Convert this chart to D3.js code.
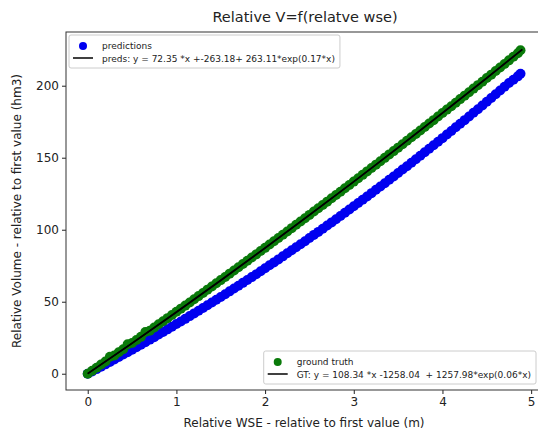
<!DOCTYPE html>
<html>
<head>
<meta charset="utf-8">
<script src="https://cdn.jsdelivr.net/npm/d3@7"></script>
<style>
  body { margin: 0; background: #fff; }
  text { font-family: "DejaVu Sans", sans-serif; fill: #222; }
</style>
</head>
<body>
<div id="chart"></div>
<script>
// values
var wse = [0,0.05,0.1,0.15,0.2,0.25,0.3,0.35,0.4,0.45,0.5,0.55,0.6,0.65,0.7,0.75,0.8,0.85,0.9,0.95,
  1.0,1.05,1.1,1.15,1.2,1.25,1.3,1.35,1.4,1.45,1.5,1.55,1.6,1.65,1.7,1.75,1.8,1.85,1.9,1.95,
  2.0,2.05,2.1,2.15,2.2,2.25,2.3,2.35,2.4,2.45,2.5,2.55,2.6,2.65,2.7,2.75,2.8,2.85,2.9,2.95,
  3.0,3.05,3.1,3.15,3.2,3.25,3.3,3.35,3.4,3.45,3.5,3.55,3.6,3.65,3.7,3.75,3.8,3.85,3.9,3.95,
  4.0,4.05,4.1,4.15,4.2,4.25,4.3,4.35,4.4,4.45,4.5,4.55,4.6,4.65,4.7,4.75,4.8,4.85,4.88];
var predVol = [0,1.6,3.2,4.9,6.5,8.2,9.9,11.6,13.3,15.0,16.7,18.4,20.2,21.9,23.7,25.4,27.2,29.0,30.8,32.6,
  34.5,36.3,38.1,40.0,41.9,43.7,45.6,47.5,49.4,51.4,53.3,55.2,57.2,59.2,61.1,63.1,65.1,67.1,69.1,71.2,
  73.2,75.3,77.3,79.4,81.5,83.6,85.7,87.8,89.9,92.0,94.2,96.4,98.5,100.7,102.9,105.1,107.3,109.5,111.8,114.0,
  116.3,118.5,120.8,123.1,125.4,127.7,130.0,132.3,134.7,137.0,139.4,141.8,144.1,146.5,148.9,151.4,153.8,156.2,158.7,161.1,
  163.6,166.1,168.6,171.1,173.6,176.1,178.6,181.2,183.7,186.3,188.9,191.5,194.1,196.7,199.3,201.9,204.2,206.5,208.3];
var gtVol = [0,2.1,4.2,6.4,8.5,11.8,12.7,14.9,17.0,20.4,21.3,23.4,25.6,29.0,29.9,32.1,34.3,36.4,38.6,40.8,
  43.0,45.2,47.3,49.5,51.7,53.9,56.1,58.4,60.6,62.8,65.0,67.2,69.5,71.7,73.9,76.2,78.4,80.7,82.9,85.2,
  87.4,89.7,92.0,94.2,96.5,98.8,101.1,103.4,105.7,108.0,110.3,112.6,114.9,117.2,119.5,121.8,124.1,126.4,128.8,131.1,
  133.4,135.8,138.1,140.5,142.8,145.2,147.5,149.9,152.3,154.6,157.0,159.4,161.8,164.2,166.5,168.9,171.3,173.7,176.1,178.6,
  181.0,183.4,185.8,188.2,190.7,193.1,195.5,198.0,200.4,202.8,205.3,207.7,210.2,212.7,215.1,217.6,220.1,222.6,224.6];
var fitX = [0,0.5,1,1.5,2,2.5,3,3.5,4,4.5,4.9];
var predsFit = [0,21.0,42.6,64.7,87.2,110.1,133.3,157.0,181.1,205.5,225.3];
var gtFit = [0,21.3,43.0,65.0,87.4,110.3,133.4,157.0,181.0,205.3,225.0];
var xTicks = [0,1,2,3,4,5];
var yTicks = [0,50,100,150,200];

var W = 538, H = 431;
var svg = d3.select("#chart").append("svg")
  .attr("width", W).attr("height", H);

var x = d3.scaleLinear().domain([-0.245, 5.145]).range([66, 544]);
var y = d3.scaleLinear().domain([-11.3, 237.3]).range([390, 32]);

// title
svg.append("text")
  .attr("x", 305).attr("y", 22)
  .attr("text-anchor", "middle")
  .style("font-size", "14.5px")
  .text("Relative V=f(relatve wse)");

// axes
svg.append("g")
  .attr("transform", "translate(0,390)")
  .call(d3.axisBottom(x).tickValues(xTicks).tickFormat(d3.format("d")).tickSize(4).tickPadding(3))
  .call(function(g) { g.select(".domain").remove(); })
  .call(function(g) {
    g.selectAll("line").attr("stroke", "#222");
    g.selectAll("text").style("font-size", "12px").style("font-family", "DejaVu Sans").attr("fill", "#222");
  });

svg.append("g")
  .attr("transform", "translate(66,0)")
  .call(d3.axisLeft(y).tickValues(yTicks).tickSize(4).tickPadding(3))
  .call(function(g) { g.select(".domain").remove(); })
  .call(function(g) {
    g.selectAll("line").attr("stroke", "#222");
    g.selectAll("text").style("font-size", "12px").style("font-family", "DejaVu Sans").attr("fill", "#222");
  });

svg.append("text")
  .attr("x", 304).attr("y", 427)
  .attr("text-anchor", "middle")
  .style("font-size", "12px")
  .text("Relative WSE - relative to first value (m)");

svg.append("text")
  .attr("transform", "translate(21,211) rotate(-90)")
  .attr("text-anchor", "middle")
  .style("font-size", "12px")
  .text("Relative Volume - relative to first value (hm3)");

// clip to plot area
svg.append("clipPath").attr("id", "clip")
  .append("rect").attr("x", 66).attr("y", 32).attr("width", 478).attr("height", 358);
var plot = svg.append("g").attr("clip-path", "url(#clip)");

plot.selectAll(".pred")
  .data(wse)
  .enter().append("circle")
  .attr("class", "pred")
  .attr("cx", function(d) { return x(d); })
  .attr("cy", function(d, i) { return y(predVol[i]); })
  .attr("r", 5)
  .attr("fill", "#0000f0");

plot.selectAll(".gt")
  .data(wse)
  .enter().append("circle")
  .attr("class", "gt")
  .attr("cx", function(d) { return x(d); })
  .attr("cy", function(d, i) { return y(gtVol[i]); })
  .attr("r", 5)
  .attr("fill", "#0a7a0a");

var line = d3.line()
  .x(function(d) { return x(d[0]); })
  .y(function(d) { return y(d[1]); });

plot.append("path")
  .datum(fitX.map(function(v, i) { return [v, predsFit[i]]; }))
  .attr("fill", "none").attr("stroke", "black").attr("stroke-width", 1.5)
  .attr("d", line);
plot.append("path")
  .datum(fitX.map(function(v, i) { return [v, gtFit[i]]; }))
  .attr("fill", "none").attr("stroke", "black").attr("stroke-width", 1.5)
  .attr("d", line);

// frame
svg.append("rect")
  .attr("x", 66).attr("y", 32).attr("width", 478).attr("height", 358)
  .attr("fill", "none").attr("stroke", "#333").attr("stroke-width", 1);

// legends
function makeLegend(left, top, color, label, fitLabel, alignRight) {
  var g = svg.append("g");
  var box = g.append("rect").attr("rx", 2)
    .attr("fill", "white").attr("fill-opacity", 0.85)
    .attr("stroke", "#ccc");
  g.append("circle").attr("cx", 14).attr("cy", 11).attr("r", 4).attr("fill", color);
  g.append("line").attr("x1", 4).attr("x2", 24).attr("y1", 23).attr("y2", 23)
    .attr("stroke", "black").attr("stroke-width", 1.5);
  g.append("text").attr("x", 33).attr("y", 14).style("font-size", "9px").text(label);
  var t = g.append("text").attr("x", 33).attr("y", 26.5).style("font-size", "9px")
    .style("white-space", "pre").text(fitLabel);
  var w = 33 + t.node().getComputedTextLength() + 5;
  box.attr("width", w).attr("height", 33);
  var lx = alignRight ? left - w : left;
  g.attr("transform", "translate(" + lx + "," + top + ")");
}

makeLegend(69, 35, "#0000f0", "predictions", "preds: y = 72.35 *x +-263.18+ 263.11*exp(0.17*x)", false);
makeLegend(536, 351, "#0a7a0a", "ground truth", "GT: y = 108.34 *x -1258.04  + 1257.98*exp(0.06*x)", true);
</script>
</body>
</html>
